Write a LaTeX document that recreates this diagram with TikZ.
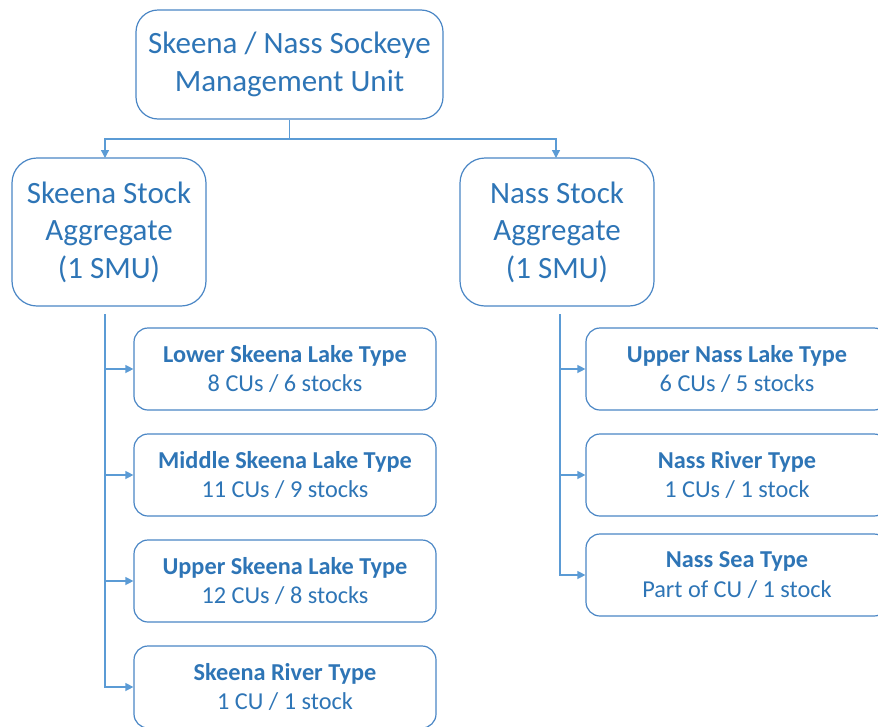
\documentclass[tikz,border=0pt]{standalone}
\usepackage{fontspec}
\setmainfont{Carlito}
\usetikzlibrary{arrows.meta}
\definecolor{txtblue}{HTML}{2E75B6}
\definecolor{boxblue}{HTML}{4A86C5}
\definecolor{lineblue}{HTML}{5B9BD5}
\tikzset{
  unitbox/.style={draw=boxblue, line width=1.2pt, rounded corners=22pt, align=center,
    text=txtblue, inner sep=0pt},
  bigtext/.style={font=\fontsize{31}{37.5}\selectfont},
  childbox/.style={unitbox, rounded corners=14pt, minimum width=302pt, minimum height=82pt,
    font=\fontsize{24.3}{29.5}\selectfont},
  link/.style={draw=lineblue, line width=1.3pt, -{Triangle[length=8pt,width=8pt]}},
  plainlink/.style={draw=lineblue, line width=1.3pt}
}
\begin{document}
\begin{tikzpicture}[x=1pt, y=-1pt]
\useasboundingbox (0,0) rectangle (878,726);
\clip (0,0) rectangle (878,726);

% management unit
\node[unitbox, bigtext, minimum width=307pt, minimum height=109pt] (smu) at (289.5,64.5)
  {Skeena / Nass Sockeye\\Management Unit};

% stock aggregates
\node[unitbox, bigtext, rounded corners=25pt, minimum width=194pt, minimum height=148pt] (skagg) at (109,232)
  {Skeena Stock\\Aggregate\\(1 SMU)};
\node[unitbox, bigtext, rounded corners=25pt, minimum width=194pt, minimum height=148pt] (nsagg) at (557,232)
  {Nass Stock\\Aggregate\\(1 SMU)};

% Skeena conservation units
\node[childbox] (sk1) at (285,369) {\textbf{Lower Skeena Lake Type}\\8 CUs / 6 stocks};
\node[childbox] (sk2) at (285,475) {\textbf{Middle Skeena Lake Type}\\11 CUs / 9 stocks};
\node[childbox] (sk3) at (285,581) {\textbf{Upper Skeena Lake Type}\\12 CUs / 8 stocks};
\node[childbox] (sk4) at (285,687) {\textbf{Skeena River Type}\\1 CU / 1 stock};

% Nass conservation units
\node[childbox] (ns1) at (737,369) {\textbf{Upper Nass Lake Type}\\6 CUs / 5 stocks};
\node[childbox] (ns2) at (737,475) {\textbf{Nass River Type}\\1 CUs / 1 stock};
\node[childbox] (ns3) at (737,575) {\textbf{Nass Sea Type}\\Part of CU / 1 stock};

% connectors from the management unit
\coordinate (fork) at (289.5,139);
\draw[plainlink] (smu.south) -- (fork);
\draw[link] (fork) -| (105,158);
\draw[link] (fork) -| (556,158);

% Skeena branch
\coordinate (skroot) at (105,314);
\foreach \c in {sk1,sk2,sk3,sk4} \draw[link] (skroot) |- (\c.west);

% Nass branch
\coordinate (nsroot) at (560,314);
\foreach \c in {ns1,ns2,ns3} \draw[link] (nsroot) |- (\c.west);
\end{tikzpicture}
\end{document}
